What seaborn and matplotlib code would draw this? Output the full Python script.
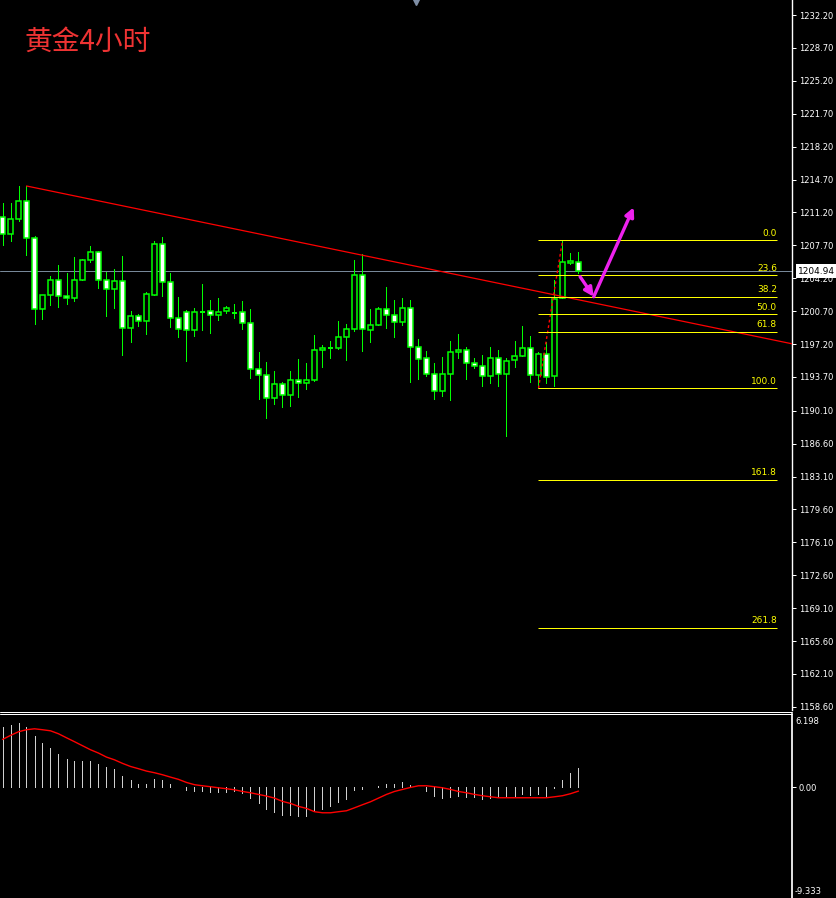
import matplotlib
matplotlib.use("Agg")
import matplotlib.pyplot as plt
import matplotlib.transforms as mtransforms
from matplotlib.lines import Line2D
from matplotlib.patches import Rectangle
import numpy as np
import pandas as pd
import seaborn as sns

# gold, 4h candles (oldest first)
opens = [1210.74, 1208.87, 1210.53, 1212.38, 1208.44, 1200.89, 1202.38, 1203.98, 1202.27, 1202.06,
         1203.98, 1206.10, 1206.96, 1203.98, 1203.02, 1203.87, 1198.87, 1200.15, 1199.62, 1202.38,
         1207.81, 1203.76, 1199.93, 1200.57, 1198.66, 1200.57, 1200.68, 1200.25, 1200.68, 1200.50,
         1200.57, 1199.40, 1194.51, 1193.87, 1191.42, 1192.91, 1191.74, 1193.34, 1193.02, 1193.34,
         1196.53, 1196.81, 1196.81, 1197.91, 1198.76, 1204.51, 1198.66, 1199.19, 1200.89, 1200.25,
         1199.51, 1201.00, 1196.85, 1195.68, 1193.98, 1192.17, 1193.98, 1196.32, 1196.53, 1195.15,
         1194.83, 1193.76, 1195.68, 1193.98, 1195.47, 1195.89, 1196.74, 1193.87, 1196.11, 1193.76,
         1202.06, 1205.82, 1205.89]
highs = [1212.17, 1212.17, 1214.01, 1214.01, 1208.69, 1202.38, 1204.43, 1205.60, 1204.79, 1206.42,
         1206.21, 1207.63, 1207.09, 1204.89, 1205.18, 1206.56, 1200.68, 1200.36, 1202.70, 1208.16,
         1208.58, 1204.79, 1202.20, 1200.82, 1201.00, 1203.58, 1201.88, 1202.09, 1201.21, 1201.49,
         1201.78, 1200.92, 1196.35, 1195.29, 1194.33, 1193.13, 1194.33, 1195.61, 1195.18, 1198.13,
         1197.06, 1197.49, 1199.65, 1199.33, 1206.14, 1206.74, 1200.92, 1201.11, 1203.26, 1201.88,
         1202.06, 1201.88, 1197.70, 1196.42, 1195.15, 1195.79, 1197.49, 1198.23, 1196.85, 1195.68,
         1196.00, 1196.85, 1196.53, 1195.68, 1197.49, 1199.08, 1198.02, 1196.32, 1197.40, 1203.98,
         1208.23, 1206.85, 1206.96]
lows = [1207.73, 1208.19, 1210.32, 1206.67, 1199.33, 1199.86, 1201.35, 1201.17, 1201.49, 1201.81,
        1203.98, 1205.96, 1203.19, 1200.21, 1201.06, 1196.06, 1197.45, 1199.15, 1198.30, 1202.38,
        1202.34, 1199.04, 1197.98, 1195.42, 1198.08, 1198.72, 1198.40, 1199.79, 1200.47, 1200.00,
        1198.83, 1193.62, 1191.38, 1189.36, 1190.85, 1190.53, 1190.64, 1191.59, 1192.44, 1193.23,
        1194.79, 1195.74, 1196.70, 1195.53, 1198.62, 1196.49, 1197.45, 1199.19, 1198.93, 1197.98,
        1199.19, 1193.19, 1193.51, 1193.83, 1191.38, 1191.70, 1191.28, 1195.68, 1193.51, 1194.68,
        1192.76, 1193.08, 1192.76, 1187.45, 1194.72, 1195.89, 1193.13, 1192.49, 1193.02, 1192.70,
        1202.06, 1205.68, 1204.72]
closes = [1208.87, 1210.53, 1212.38, 1208.44, 1200.89, 1202.38, 1203.98, 1202.27, 1202.06, 1203.98,
          1206.10, 1206.96, 1203.98, 1203.02, 1203.87, 1198.87, 1200.15, 1199.62, 1202.49, 1207.81,
          1203.76, 1199.93, 1198.76, 1198.66, 1200.57, 1200.68, 1200.25, 1200.57, 1201.00, 1200.55,
          1199.40, 1194.51, 1193.87, 1191.42, 1192.91, 1191.74, 1193.34, 1193.02, 1193.34, 1196.53,
          1196.74, 1196.85, 1197.91, 1198.76, 1204.51, 1198.76, 1199.19, 1200.89, 1200.25, 1199.51,
          1201.00, 1196.85, 1195.57, 1193.98, 1192.17, 1193.98, 1196.32, 1196.53, 1195.15, 1194.83,
          1193.76, 1195.68, 1193.98, 1195.36, 1195.89, 1196.74, 1193.87, 1196.11, 1193.66, 1201.96,
          1205.89, 1205.98, 1204.94]

# MACD histogram and signal line
macd_hist = [5.12, 5.23, 5.40, 5.12, 4.30, 3.71, 3.29, 2.78, 2.36, 2.19,
             2.19, 2.19, 1.94, 1.69, 1.52, 0.93, 0.59, 0.25, 0.25, 0.68,
             0.59, 0.25, 0.02, -0.25, -0.34, -0.34, -0.42, -0.42, -0.42, -0.34,
             -0.51, -0.93, -1.35, -1.86, -2.11, -2.32, -2.36, -2.45, -2.45, -2.03,
             -1.86, -1.60, -1.27, -1.01, -0.25, -0.17, 0.0, 0.08, 0.25, 0.25,
             0.42, 0.17, 0.05, -0.34, -0.76, -0.93, -0.84, -0.76, -0.84, -0.84,
             -1.01, -0.93, -0.84, -0.76, -0.76, -0.59, -0.68, -0.59, -0.76, -0.08,
             0.59, 1.18, 1.60]
macd_signal = [4.05, 4.39, 4.70, 4.87, 4.95, 4.87, 4.78, 4.53, 4.19, 3.86,
               3.52, 3.18, 2.90, 2.56, 2.33, 2.03, 1.77, 1.58, 1.38, 1.24,
               1.07, 0.87, 0.68, 0.42, 0.23, 0.14, 0.06, -0.03, -0.11, -0.20,
               -0.34, -0.45, -0.59, -0.73, -0.90, -1.18, -1.35, -1.60, -1.77, -2.05,
               -2.14, -2.14, -2.05, -1.97, -1.72, -1.46, -1.21, -0.90, -0.59, -0.34,
               -0.17, 0.00, 0.14, 0.14, 0.06, -0.03, -0.17, -0.34, -0.45, -0.59,
               -0.70, -0.79, -0.87, -0.87, -0.87, -0.87, -0.87, -0.87, -0.87, -0.79,
               -0.70, -0.53, -0.31]
macd_max, macd_min = 6.198, -9.333

price_ticks = [1232.20, 1228.70, 1225.20, 1221.70, 1218.20, 1214.70, 1211.20, 1207.70,
               1204.20, 1200.70, 1197.20, 1193.70, 1190.10, 1186.60, 1183.10, 1179.60,
               1176.10, 1172.60, 1169.10, 1165.60, 1162.10, 1158.60]
last_price = 1204.94

# fibonacci retracement drawn from the low of bar 67 to the high of bar 70
fib_ratios = [0.0, 23.6, 38.2, 50.0, 61.8, 100.0, 161.8, 261.8]
fib_from, fib_to = 67, 70
fib_end = 96.8

# falling trendline
trend_x = [3, 98.7]
trend_y = [1214.01, 1197.22]

# hand-drawn forecast arrows
arrow_x = [72.2, 73.9, 78.9]
arrow_y = [1204.36, 1202.23, 1211.74]

title = "黄金4小时"

GREEN = "#00ff00"
PX = 0.72  # one pixel in points at 100 dpi
W, H = 837, 898

sns.set_theme(style="dark", rc={
    "axes.facecolor": "black", "figure.facecolor": "black", "axes.edgecolor": "white",
    "xtick.color": "white", "ytick.color": "white", "text.color": "white", "axes.grid": False,
})
plt.rcParams["font.family"] = ["DejaVu Sans"]

fig = plt.figure(figsize=(W / 100, H / 100), dpi=100)
ax = fig.add_axes([0, 1 - 710 / H, 792 / W, 710 / H])
ax2 = fig.add_axes([0, 0, 792 / W, 184 / H])

df = pd.DataFrame({"open": opens, "high": highs, "low": lows, "close": closes})
df["x"] = np.arange(len(df))
xlim = (-2.5 / 8, (792 - 2.5) / 8)

# --- candles
ax.vlines(df["x"], df["low"], df["high"], color=GREEN, lw=PX, antialiased=False, zorder=2)
for r in df.itertuples():
    lo, hi = sorted((r.open, r.close))
    if hi - lo < 0.12:
        ax.hlines(r.open, r.x - 0.3, r.x + 0.3, color=GREEN, lw=2 * PX, antialiased=False, zorder=3)
    else:
        face = "black" if r.close > r.open else "white"
        ax.add_patch(Rectangle((r.x - 0.27, lo), 0.54, hi - lo, facecolor=face,
                               edgecolor=GREEN, lw=1.1, zorder=3))

ax.axhline(last_price, color="#778899", lw=PX, zorder=1)

sns.lineplot(x=trend_x, y=trend_y, ax=ax, color="red", lw=0.9, zorder=4)

# --- fibonacci
fib_hi, fib_lo = df["high"][fib_to], df["low"][fib_from]
ax.plot([fib_from, fib_to], [fib_lo, fib_hi], color="red", lw=1, ls=(0, (2, 2)), zorder=4)
for r in fib_ratios:
    lvl = fib_hi - r / 100 * (fib_hi - fib_lo)
    ax.hlines(lvl, fib_from, fib_end, color="#ffff00", lw=PX, zorder=4)
    ax.text(fib_end, lvl + 0.28, f"{r:.1f}", color="#ffff00", fontsize=6.5,
            ha="right", va="bottom", zorder=5)

# --- arrows
for i in range(len(arrow_x) - 1):
    ax.annotate("", xy=(arrow_x[i + 1], arrow_y[i + 1]), xytext=(arrow_x[i], arrow_y[i]),
                arrowprops=dict(arrowstyle="-|>", color="#ee22ee", lw=2.4,
                                mutation_scale=13, shrinkA=0, shrinkB=0), zorder=6)

fig.text(25 / W, 1 - 42 / H, title, color="#ee3333", fontsize=20,
         family=["Noto Sans CJK SC", "DejaVu Sans"], va="center", ha="left")

ax.set_xlim(*xlim)
ax.set_ylim(1233.796 - 710 / 9.4, 1233.796)
ax.yaxis.tick_right()
ax.set_yticks(price_ticks)
ax.set_yticklabels([f"{t:.2f}" for t in price_ticks])
ax.tick_params(axis="y", length=3, width=PX, pad=2, labelsize=6, colors="white")
ax.set_xticks([])
ax.set_xlabel("")
ax.set_ylabel("")
for s in ("left", "top", "bottom"):
    ax.spines[s].set_visible(False)
ax.spines["right"].set_color("white")
ax.spines["right"].set_linewidth(1)

# current price tag
ytrans = mtransforms.blended_transform_factory(ax.transAxes, ax.transData)
ax.text(1 + 6 / 792, last_price, f"{last_price:.2f}", transform=ytrans, color="black",
        fontsize=6.5, va="center", ha="left", clip_on=False, zorder=10,
        bbox=dict(facecolor="white", edgecolor="none", pad=1.6))

# chart-shift marker at the top
ax.plot([51.7], [1233.55], marker="v", ms=5, color="#7f8fa6", clip_on=False, zorder=6)

# --- MACD panel
ax2.vlines(df["x"], 0, macd_hist, color="#d0d0d0", lw=PX, antialiased=False)
sns.lineplot(x=df["x"], y=macd_signal, ax=ax2, color="red", lw=1.0)
ax2.set_xlim(*xlim)
ax2.set_ylim(macd_min, macd_max)
ax2.yaxis.tick_right()
ax2.set_yticks([0])
ax2.set_yticklabels(["0.00"])
ax2.tick_params(axis="y", length=3, width=PX, pad=2, labelsize=6, colors="white")
ax2.set_xticks([])
ax2.set_xlabel("")
ax2.set_ylabel("")
for s in ("left", "top", "bottom"):
    ax2.spines[s].set_visible(False)
ax2.spines["right"].set_color("white")
ax2.text(1 + 3 / 792, 1 - 3 / 184, f"{macd_max:.3f}", transform=ax2.transAxes,
         fontsize=6, color="white", va="top", ha="left")
ax2.text(1 + 3 / 792, 2 / 184, f"{macd_min:.3f}", transform=ax2.transAxes,
         fontsize=6, color="white", va="bottom", ha="left")

# double separator between the panels
for yp in (711.7, 713.7):
    fig.add_artist(Line2D([0, 792 / W], [1 - yp / H, 1 - yp / H], color="white", lw=PX))

fig.savefig("out.png", dpi=100, facecolor="black")
